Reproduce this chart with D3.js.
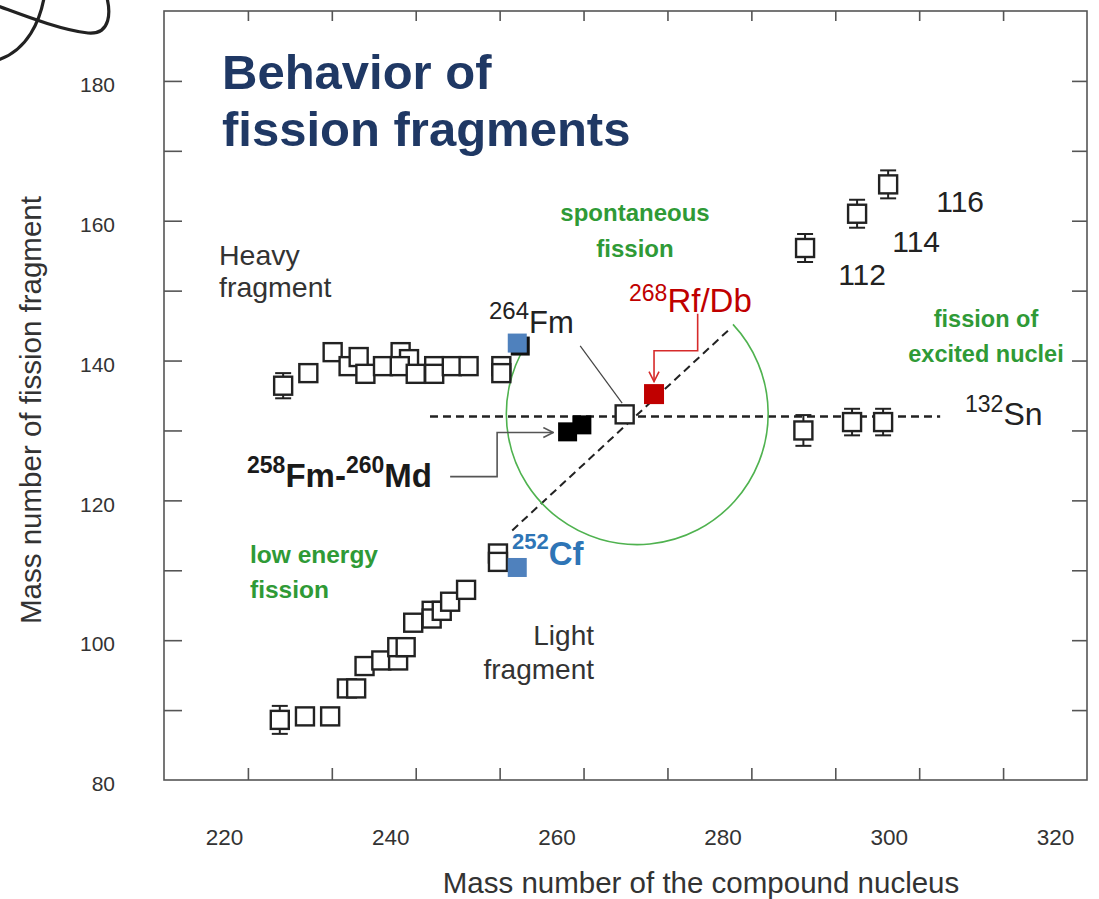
<!DOCTYPE html>
<html>
<head>
<meta charset="utf-8">
<script src="https://cdn.jsdelivr.net/npm/d3@7"></script>
<style>
  html, body { margin: 0; padding: 0; background: #fff; }
  svg { display: block; font-family: "Liberation Sans", Arial, sans-serif; }
</style>
</head>
<body>
<svg id="chart" width="1099" height="899"></svg>
<script>
// ---- data -------------------------------------------------------------
// Heavy fragment mass vs compound-nucleus mass
const heavyX   = [224.2, 227.2, 230.1, 232.0, 233.2, 234.0, 236.1, 238.2, 239.2, 238.1, 240.0, 242.2, 242.2, 244.3, 246.3, 250.2, 250.2];
const heavyY   = [136.4, 138.2, 141.2, 139.2, 140.5, 138.1, 139.2, 141.2, 140.2, 139.2, 138.1, 139.2, 138.1, 139.2, 139.2, 139.2, 138.2];
const heavyErr = [1.8, 0, 0, 0, 0, 0, 0, 0, 0, 0, 0, 0, 0, 0, 0, 0, 0];

// Light fragment mass vs compound-nucleus mass
const lightX   = [223.8, 226.8, 229.8, 231.8, 232.9, 233.9, 235.9, 237.9, 237.8, 238.8, 239.7, 241.9, 241.9, 243.1, 244.1, 246.0, 249.8, 249.8];
const lightY   = [88.6, 89.1, 89.1, 93.1, 93.1, 96.3, 97.1, 97.1, 99.0, 99.0, 102.5, 104.2, 103.1, 104.2, 105.5, 107.2, 112.4, 111.2];
const lightErr = [2.0, 0, 0, 0, 0, 0, 0, 0, 0, 0, 0, 0, 0, 0, 0, 0, 0, 0];

// Superheavy systems (Z = 112, 114, 116): heavy group and 132Sn group
const shLabels  = ["112", "114", "116"];
const shHeavyX  = [286.4, 292.6, 296.3];
const shHeavyY  = [156.1, 161.0, 165.2];
const shHeavyE  = [2.0, 2.0, 2.0];
const shLightX  = [286.2, 292.0, 295.7];
const shLightY  = [130.0, 131.2, 131.2];
const shLightE  = [2.2, 1.9, 1.9];

// Highlighted systems
const cfX = 252.1, cfHeavyY = 142.5, cfLightY = 110.4;       // 252Cf
const fmMdX = [258.1, 259.8], fmMdY = [129.8, 130.8];         // 258Fm, 260Md
const fm264 = [264.9, 132.3];                                 // 264Fm
const rf268 = [268.4, 135.2];                                 // 268Rf/Db

// Guides
const snMass = 132, snRange = [241.7, 302.5];
const diagonal = [[251.5, 115.7], [277.5, 144.6]];
const ringCenter = [266.4, 132.4], ringRadius = 15.6, ringAngles = [47, 302];

// Leader lines
const fmMdLeader = [[244.1, 123.4], [249.7, 123.4], [249.7, 129.7], [256.4, 129.7]];
const rfLeader   = [[273.6, 146.7], [273.6, 141.4], [268.4, 141.4], [268.4, 137.0]];
const fm264Leader = [[259.6, 142.1], [264.6, 133.9]];

// Axes
const xTicks = d3.range(220, 320, 10);
const yTicks = d3.range(90, 190, 10);
const xTickLabels = [220, 240, 260, 280, 300, 320];
const yTickLabels = [80, 100, 120, 140, 160, 180];

// ---- layout ------------------------------------------------------------
const svg = d3.select("#chart");
const x = d3.scaleLinear().domain([210, 320]).range([164, 1087]);
const y = d3.scaleLinear().domain([80, 190]).range([780, 11]);
const xLab = d3.scaleLinear().domain([220, 320]).range([224, 1055]);

const ink = "#222";
const green = "#2f9a36";

// decorative stroke in the corner
svg.append("path")
  .attr("d", "M-2,6 C20,14 60,30 88,33 C112,35 110,10 107,-2 M44,-2 C40,20 28,50 -2,60")
  .attr("fill", "none").attr("stroke", "#222").attr("stroke-width", 3.2)
  .attr("stroke-linecap", "round");

// frame
svg.append("rect")
  .attr("x", x(210)).attr("y", y(190))
  .attr("width", x(320) - x(210)).attr("height", y(80) - y(190))
  .attr("fill", "none").attr("stroke", "#555").attr("stroke-width", 1.6);

// inward ticks on all four sides
function ticks(axis, tf) {
  const g = svg.append("g").attr("transform", tf).call(axis);
  g.select(".domain").remove();
  g.selectAll("line").attr("stroke", "#555").attr("stroke-width", 1.6);
  return g;
}
ticks(d3.axisBottom(x).tickValues(xTicks).tickSize(-12).tickFormat(""), `translate(0,${y(80)})`);
ticks(d3.axisTop(x).tickValues(xTicks).tickSize(-10).tickFormat(""), `translate(0,${y(190)})`);
ticks(d3.axisLeft(y).tickValues(yTicks).tickSize(-18).tickFormat(""), `translate(${x(210)},0)`);
ticks(d3.axisRight(y).tickValues(yTicks).tickSize(-15).tickFormat(""), `translate(${x(320)},0)`);

// tick labels
const yl = svg.append("g").attr("transform", "translate(117,4)")
  .call(d3.axisLeft(y).tickValues(yTickLabels).tickSize(0).tickPadding(2));
yl.select(".domain").remove();
yl.selectAll("text").attr("font-size", 21).attr("fill", "#333").attr("font-family", "Liberation Sans, Arial, sans-serif");

const xl = svg.append("g").attr("transform", "translate(0,829)")
  .call(d3.axisBottom(xLab).tickValues(xTickLabels).tickSize(0).tickPadding(0));
xl.select(".domain").remove();
xl.selectAll("text").attr("font-size", 22.5).attr("fill", "#333").attr("font-family", "Liberation Sans, Arial, sans-serif");

// axis titles
svg.append("text").attr("x", 701).attr("y", 893).attr("text-anchor", "middle")
  .attr("font-size", 29.5).attr("fill", "#333").text("Mass number of the compound nucleus");
svg.append("text").attr("transform", "translate(41,410) rotate(-90)").attr("text-anchor", "middle")
  .attr("font-size", 29.5).attr("fill", "#333").text("Mass number of fission fragment");

// title
const title = svg.append("text").attr("x", 222).attr("y", 89)
  .attr("font-size", 49).attr("font-weight", "bold").attr("fill", "#1f3864");
title.append("tspan").text("Behavior of");
title.append("tspan").attr("x", 222).attr("y", 146).text("fission fragments");

// ---- guides --------------------------------------------------------------
svg.append("line")
  .attr("x1", x(snRange[0])).attr("x2", x(snRange[1]))
  .attr("y1", y(snMass)).attr("y2", y(snMass))
  .attr("stroke", ink).attr("stroke-width", 2.4).attr("stroke-dasharray", "8,5");

svg.append("line")
  .attr("x1", x(diagonal[0][0])).attr("y1", y(diagonal[0][1]))
  .attr("x2", x(diagonal[1][0])).attr("y2", y(diagonal[1][1]))
  .attr("stroke", ink).attr("stroke-width", 2).attr("stroke-dasharray", "8,5");

const rPx = x(ringCenter[0] + ringRadius) - x(ringCenter[0]);
svg.append("path")
  .attr("transform", `translate(${x(ringCenter[0])},${y(ringCenter[1])})`)
  .attr("d", d3.arc()({ innerRadius: rPx, outerRadius: rPx,
    startAngle: ringAngles[0] * Math.PI / 180, endAngle: ringAngles[1] * Math.PI / 180 }))
  .attr("fill", "none").attr("stroke", "#4fb24f").attr("stroke-width", 1.6);

// ---- markers -------------------------------------------------------------
const S = 18;
function errorBars(xs, ys, es) {
  xs.forEach((xv, i) => {
    const e = es[i];
    if (!e) return;
    const g = svg.append("g").attr("stroke", ink).attr("stroke-width", 2);
    g.append("line").attr("x1", x(xv)).attr("x2", x(xv)).attr("y1", y(ys[i] - e)).attr("y2", y(ys[i] + e));
    [ys[i] - e, ys[i] + e].forEach(v =>
      g.append("line").attr("x1", x(xv) - 8).attr("x2", x(xv) + 8).attr("y1", y(v)).attr("y2", y(v)));
  });
}
function openSquares(xs, ys) {
  svg.append("g").selectAll("rect").data(xs).join("rect")
    .attr("x", (d) => x(d) - S / 2).attr("y", (d, i) => y(ys[i]) - S / 2)
    .attr("width", S).attr("height", S)
    .attr("fill", "#fff").attr("stroke", ink).attr("stroke-width", 2.4);
}
errorBars(heavyX, heavyY, heavyErr);
errorBars(lightX, lightY, lightErr);
errorBars(shHeavyX, shHeavyY, shHeavyE);
errorBars(shLightX, shLightY, shLightE);
openSquares(heavyX, heavyY);
openSquares(lightX, lightY);
openSquares(shHeavyX, shHeavyY);
openSquares(shLightX, shLightY);
openSquares([fm264[0]], [fm264[1]]);

function solidSquare(xv, yv, size, fill, shadow) {
  if (shadow) svg.append("rect").attr("x", x(xv) - size / 2 + 3).attr("y", y(yv) - size / 2 + 3)
    .attr("width", size).attr("height", size).attr("fill", "#111");
  svg.append("rect").attr("x", x(xv) - size / 2).attr("y", y(yv) - size / 2)
    .attr("width", size).attr("height", size).attr("fill", fill);
}
solidSquare(cfX, cfHeavyY, 19, "#4f81bd", true);
solidSquare(cfX, cfLightY, 19, "#4f81bd", false);
fmMdX.forEach((xv, i) => solidSquare(xv, fmMdY[i], 19, "#000", false));
solidSquare(rf268[0], rf268[1], 20, "#c00000", false);

// ---- annotations -------------------------------------------------------
const defs = svg.append("defs");
[["arrGray", "#555"], ["arrRed", "#d62b2b"]].forEach(([id, c]) =>
  defs.append("marker").attr("id", id).attr("viewBox", "0 0 12 12").attr("refX", 11).attr("refY", 6)
    .attr("markerWidth", 12).attr("markerHeight", 12).attr("markerUnits", "userSpaceOnUse").attr("orient", "auto")
    .append("path").attr("d", "M1,1 L11,6 L1,11").attr("fill", "none").attr("stroke", c).attr("stroke-width", 1.6));

const line = d3.line().x(d => x(d[0])).y(d => y(d[1]));
svg.append("path").attr("d", line(fmMdLeader)).attr("fill", "none")
  .attr("stroke", "#555").attr("stroke-width", 1.6).attr("marker-end", "url(#arrGray)");
svg.append("path").attr("d", line(rfLeader)).attr("fill", "none")
  .attr("stroke", "#d62b2b").attr("stroke-width", 1.6).attr("marker-end", "url(#arrRed)");
svg.append("path").attr("d", line(fm264Leader)).attr("fill", "none")
  .attr("stroke", "#444").attr("stroke-width", 1.2);

function block(lines, xp, yp, lh, opts) {
  const t = svg.append("text").attr("x", xp).attr("y", yp)
    .attr("text-anchor", opts.anchor || "start").attr("font-size", opts.size)
    .attr("font-weight", opts.weight || "normal").attr("fill", opts.fill);
  lines.forEach((s, i) => t.append("tspan").attr("x", xp).attr("y", yp + i * lh).text(s));
}
block(["Heavy", "fragment"], 219, 265, 32, { size: 28.5, fill: "#333" });
block(["Light", "fragment"], 594, 645, 34, { size: 28, fill: "#333", anchor: "end" });
block(["spontaneous", "fission"], 635, 221, 36, { size: 24, fill: green, weight: "bold", anchor: "middle" });
block(["fission of", "excited nuclei"], 986, 327, 35, { size: 23.5, fill: green, weight: "bold", anchor: "middle" });
block(["low energy", "fission"], 250, 563, 35, { size: 24.5, fill: green, weight: "bold" });

// nuclide labels with superscript mass numbers
function nuclide(parts, xp, yp, opts) {
  const t = svg.append("text").attr("x", xp).attr("y", yp)
    .attr("fill", opts.fill).attr("font-weight", opts.weight || "normal");
  parts.forEach(([s, sup], i) => {
    const prevSup = i > 0 && parts[i - 1][1];
    t.append("tspan")
      .attr("font-size", sup ? opts.sup : opts.size)
      .attr("dy", sup ? (prevSup ? 0 : -opts.rise) : (prevSup ? opts.rise : 0))
      .text(s);
  });
}
nuclide([["264", true], ["Fm", false]], 489, 333, { size: 31, sup: 24, rise: 14, fill: "#222" });
nuclide([["268", true], ["Rf/Db", false]], 629, 312, { size: 33, sup: 23, rise: 11, fill: "#c00000" });
nuclide([["258", true], ["Fm-", false], ["260", true], ["Md", false]], 247, 487, { size: 33, sup: 23, rise: 14, fill: "#1a1a1a", weight: "bold" });
nuclide([["252", true], ["Cf", false]], 512, 565, { size: 33, sup: 22, rise: 16, fill: "#2e75b6", weight: "bold" });
nuclide([["132", true], ["Sn", false]], 965, 425, { size: 32, sup: 23, rise: 13, fill: "#222" });

// Z labels for the superheavy systems
const zOffsets = [[57, 37], [59, 38], [72, 28]];
shLabels.forEach((s, i) => svg.append("text")
  .attr("x", x(shHeavyX[i]) + zOffsets[i][0]).attr("y", y(shHeavyY[i]) + zOffsets[i][1])
  .attr("text-anchor", "middle").attr("font-size", 30).attr("fill", "#222").text(s));
</script>
</body>
</html>
